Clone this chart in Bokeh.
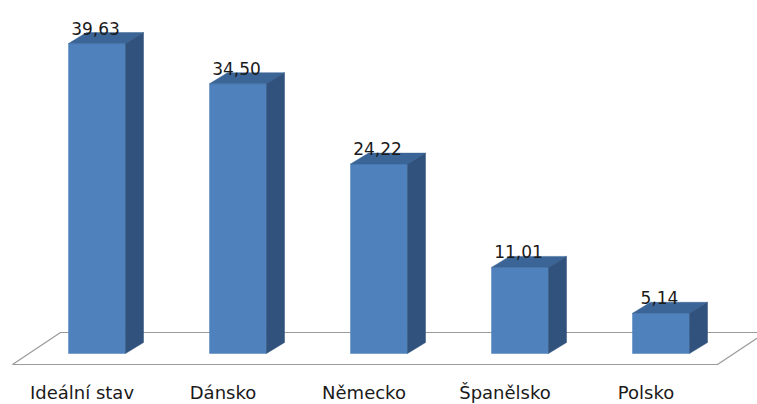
import numpy as np
from bokeh.plotting import figure
from bokeh.models import Range1d, ColumnDataSource
from bokeh.embed import file_html
from bokeh.resources import INLINE

# ---- data ----
categories = ["Ideální stav", "Dánsko", "Německo", "Španělsko", "Polsko"]
values = [39.63, 34.50, 24.22, 11.01, 5.14]
value_labels = ["39,63", "34,50", "24,22", "11,01", "5,14"]

# ---- layout / style ----
W, H = 757, 404
X0 = -0.6844
X1 = X0 + W / 141.0
Y0 = -6.52
Y1 = Y0 + H / 7.82
pxx = W / (X1 - X0)          # pixels per x unit
pxy = H / (Y1 - Y0)          # pixels per y unit

bar_half = 28.5 / pxx
dx = 18 / pxx                # 3D depth offset
dy = 11 / pxy

FRONT = "#4f81bd"
TOP = "#3b6596"
SIDE = "#30527d"
FLOOR = "#9a9a9a"

p = figure(width=W, height=H, output_backend="svg", toolbar_location=None,
           x_range=Range1d(X0, X1), y_range=Range1d(Y0, Y1),
           min_border=0, outline_line_color=None)
p.axis.visible = False
p.grid.visible = False
p.background_fill_color = "white"
p.border_fill_color = "white"

idx = np.arange(len(values))
vals = np.array(values)

# floor (perspective plane)
fl_front = -11 / pxy
fl_back = 21 / pxy
fl_depth = 48 / pxx
fl_left = idx[0] - 84.5 / pxx
fl_right = idx[-1] + 56.5 / pxx
floor_x = [fl_left, fl_right, fl_right + fl_depth, fl_left + fl_depth]
floor_y = [fl_front, fl_front, fl_back, fl_back]
p.patch(floor_x, floor_y, fill_color="white", line_color=FLOOR, line_width=1.2)

# bars
left = idx - bar_half
right = idx + bar_half
p.quad(left=left, right=right, bottom=0, top=vals, fill_color=FRONT,
       line_color=FRONT, line_width=0.5)
top_xs = [[l, r, r + dx, l + dx] for l, r in zip(left, right)]
top_ys = [[v, v, v + dy, v + dy] for v in vals]
p.patches(top_xs, top_ys, fill_color=TOP, line_color=TOP, line_width=0.5)
side_xs = [[r, r, r + dx, r + dx] for r in right]
side_ys = [[0, v, v + dy, dy] for v in vals]
p.patches(side_xs, side_ys, fill_color=SIDE, line_color=SIDE, line_width=0.5)

# value labels
src = ColumnDataSource(dict(x=idx - 1.5 / pxx, y=vals + dy + 4.5 / pxy, t=value_labels))
p.text(x="x", y="y", text="t", source=src, text_align="center",
       text_baseline="alphabetic", text_font_size="17px",
       text_font={"value": "DejaVu Sans"}, text_color="#1a1a1a")

# category labels
csrc = ColumnDataSource(dict(x=idx - 15 / pxx, y=np.zeros(len(idx)) - 39 / pxy, t=categories))
p.text(x="x", y="y", text="t", source=csrc, text_align="center",
       text_baseline="alphabetic", text_font_size="18px",
       text_font={"value": "DejaVu Sans"}, text_color="#1a1a1a")

open("out.html", "w").write(file_html(p, INLINE))
